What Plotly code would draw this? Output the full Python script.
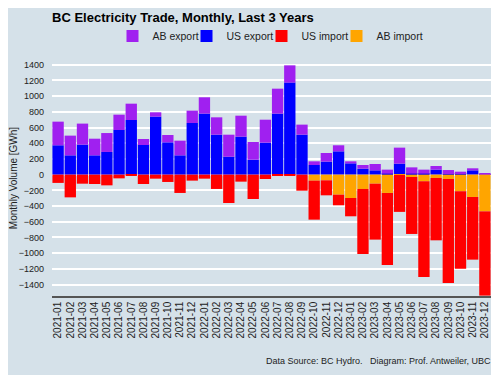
import plotly.graph_objects as go

months = [f"{y}-{m:02d}" for y in (2021, 2022, 2023) for m in range(1, 13)]

us_export = [374, 246, 382, 246, 289, 569, 696, 378, 739, 412, 246, 658,
             777, 509, 229, 484, 191, 408, 777, 1172, 509, 123, 166, 297,
             144, 76, 55, 13, 140, 13, 13, 64, 8, 13, 55, 2]
ab_export = [301, 251, 268, 212, 241, 195, 208, 76, 55, 93, 187, 157,
             208, 221, 280, 267, 225, 292, 318, 220, 128, 47, 110, 77,
             26, 47, 81, 51, 204, 80, 51, 46, 51, 25, 26, 11]
us_import = [-105, -289, -115, -119, -136, -47, -12, -119, -51, -93, -233, -76,
             -51, -182, -361, -89, -310, -55, -15, -5, -204, -497, -191, -135,
             -233, -828, -712, -917, -471, -725, -1218, -794, -1324, -985, -798, -1073]
ab_import = [0, 0, 0, 0, 0, 0, 0, 0, 0, 0, 0, 0,
             0, 0, 0, 0, 0, 0, 0, 0, 0, -76, -72, -255,
             -297, -182, -115, -233, -3, -30, -85, -42, -55, -212, -284, -467]

y_ticks = list(range(-1400, 1401, 200))

# page body has an 8px margin: figure is drawn 8px right/down of the window origin
W, H = 491, 367
OFF = 8

fig = go.Figure()
fig.add_bar(x=months, y=us_export, name="US export", marker_color="#0000ff",
            marker_line_width=0, legend="legend2")
fig.add_bar(x=months, y=ab_export, name="AB export", marker_color="#a020f0",
            marker_line_width=0, legend="legend")
fig.add_bar(x=months, y=ab_import, name="AB import", marker_color="#ffa500",
            marker_line_width=0, legend="legend4")
fig.add_bar(x=months, y=us_import, name="US import", marker_color="#ff0000",
            marker_line_width=0, legend="legend3")

bg = "#d5e1e9"
top, bottom = 60 - OFF, 296 - OFF


def leg(swatch_center):
    return dict(orientation="h", xref="container", x=(swatch_center - OFF - 22) / W,
                xanchor="left", yref="container", y=1 - (36 - OFF) / H, yanchor="middle",
                font=dict(size=10.5, color="#222"), bgcolor="rgba(0,0,0,0)")


fig.update_layout(
    barmode="relative",
    bargap=0.07,
    width=W, height=H,
    paper_bgcolor=bg, plot_bgcolor=bg,
    font=dict(family="Liberation Sans, Arial, sans-serif", size=10, color="#222"),
    margin=dict(l=52 - OFF, r=8, t=top, b=H - bottom, autoexpand=False),
    title=dict(text="<b>BC Electricity Trade, Monthly, Last 3 Years</b>",
               x=(52 - OFF) / W, xanchor="left", y=1 - (17 - OFF) / H, yanchor="middle",
               font=dict(size=13, color="#000")),
    legend=leg(134.5),
    legend2=leg(208.5),
    legend3=leg(283.5),
    legend4=leg(358.5),
    showlegend=True,
)
fig.update_xaxes(type="category", tickangle=-90, showgrid=False, showline=True,
                 linecolor="#555", linewidth=1.5, ticks="", range=[-0.5, 35.5],
                 automargin=False, tickfont=dict(size=10, color="#222"))
fig.update_yaxes(range=[-1545, 1460], tickvals=y_ticks, showgrid=True, gridcolor="white",
                 gridwidth=1.5, zeroline=False, ticks="", automargin=False,
                 ticklabelstandoff=7, tickfont=dict(size=9, color="#222"),
                 title=dict(text="Monthly Volume [GWh]", font=dict(size=10, color="#222"),
                            standoff=6))
fig.add_annotation(text="Data Source: BC Hydro.   Diagram: Prof. Antweiler, UBC",
                   xref="paper", yref="paper", x=1, y=-(361 - 296) / (bottom - top),
                   xanchor="right", yanchor="middle", showarrow=False, xshift=2,
                   font=dict(size=9, color="#222"))
fig.write_html("out.html")
